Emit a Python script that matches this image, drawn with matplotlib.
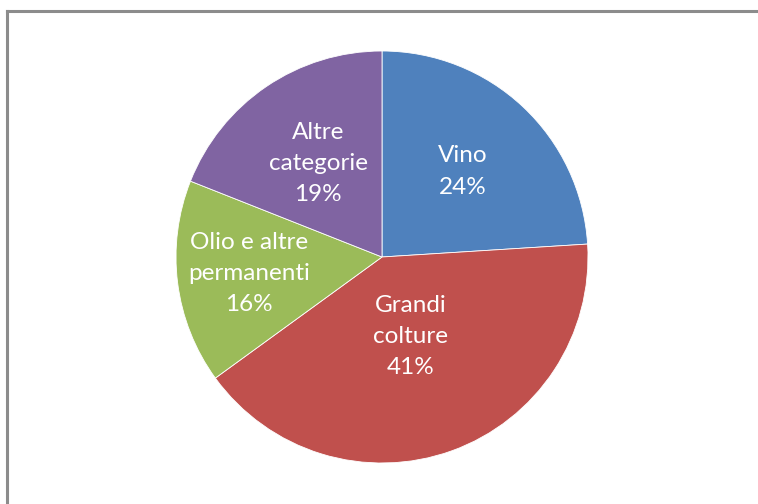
import numpy as np
import matplotlib
matplotlib.use("Agg")
import matplotlib.pyplot as plt
from matplotlib.lines import Line2D

categories = ["Vino", "Grandi\ncolture", "Olio e altre\npermanenti", "Altre\ncategorie"]
values = [24, 41, 16, 19]
colors = ["#4F81BD", "#C0504D", "#9BBB59", "#8064A2"]
label_dist = [0.57, 0.41, 0.65, 0.55]

W, H = 758, 504
fig = plt.figure(figsize=(W / 100, H / 100), dpi=100)
fig.patch.set_facecolor("white")

cx, cy, r = 382, 257, 206
ax = fig.add_axes([(cx - r) / W, (H - cy - r) / H, 2 * r / W, 2 * r / H])
wedges, _ = ax.pie(values, colors=colors, startangle=90, counterclock=False,
                   wedgeprops=dict(edgecolor="white", linewidth=0.6))
ax.set_xlim(-1, 1)
ax.set_ylim(-1, 1)
ax.set_aspect("equal")
ax.axis("off")

for w, lab, v, d in zip(wedges, categories, values, label_dist):
    ang = np.deg2rad((w.theta1 + w.theta2) / 2)
    ax.text(d * np.cos(ang), d * np.sin(ang), f"{lab}\n{v}%", ha="center", va="center",
            color="white", fontsize=17.5, family=["Lato", "DejaVu Sans"], linespacing=1.6)

# outer frame (top and left edges visible)
fig.add_artist(Line2D([7 / W, 1], [1 - 11 / H, 1 - 11 / H], transform=fig.transFigure,
                      color="#8C8C8C", linewidth=2.2))
fig.add_artist(Line2D([7 / W, 7 / W], [0, 1 - 11 / H], transform=fig.transFigure,
                      color="#8C8C8C", linewidth=2.2))

fig.savefig("out.png", dpi=100, facecolor="white")
